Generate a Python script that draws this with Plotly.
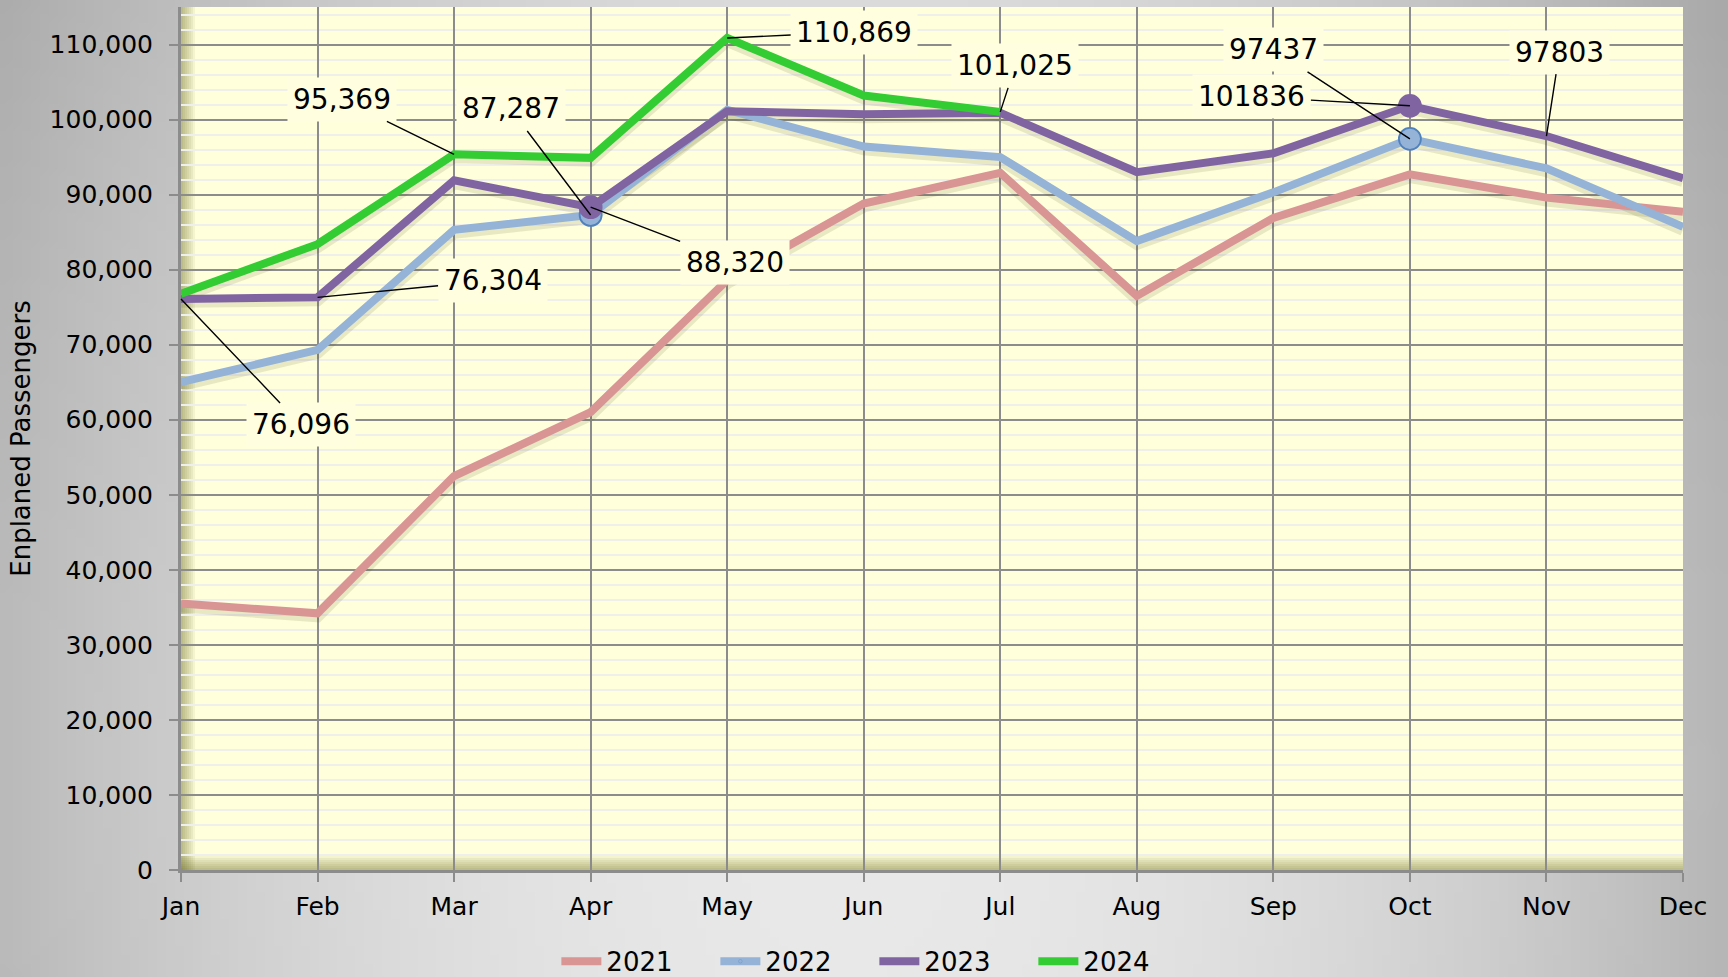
import base64
import struct
import zlib

import plotly.graph_objects as go

# ---------------- data ----------------
months = ["Jan", "Feb", "Mar", "Apr", "May", "Jun", "Jul", "Aug", "Sep", "Oct", "Nov", "Dec"]
series_names = ["2021", "2022", "2023", "2024"]
y2021 = [35500, 34200, 52500, 61000, 78600, 88800, 92900, 76500, 86900, 92700, 89600, 87700]
y2022 = [65000, 69300, 85300, 87287, 101300, 96400, 95000, 83800, 90300, 97437, 93500, 85700]
y2023 = [76096, 76304, 91900, 88320, 101100, 100700, 100900, 93000, 95500, 101836, 97803, 92200]
y2024 = [76800, 83400, 95369, 94900, 110869, 103200, 101025, None, None, None, None, None]
y_ticks = [0, 10000, 20000, 30000, 40000, 50000, 60000, 70000, 80000, 90000, 100000, 110000]

# labelled points: (series, month index, label text, label offset px)
labels = [
    ("2024", 2, "95,369", -112, -55),
    ("2022", 3, "87,287", -80, -106),
    ("2023", 1, "76,304", 175, -17),
    ("2023", 0, "76,096", 120, 126),
    ("2023", 3, "88,320", 144, 55),
    ("2024", 4, "110,869", 127, -6),
    ("2024", 6, "101,025", 15, -46),
    ("2022", 9, "97437", -136, -89),
    ("2023", 9, "101836", -158, -9),
    ("2023", 10, "97803", 13, -84),
]
marker_points = {"2022": [3, 9], "2023": [3, 9]}

values = {"2021": y2021, "2022": y2022, "2023": y2023, "2024": y2024}
colors = {"2021": "#D99594", "2022": "#95B3D7", "2023": "#8064A2", "2024": "#33CC33"}
marker_lines = {"2022": "#4F81BD", "2023": "#8064A2"}

FONT = "DejaVu Sans, Verdana, sans-serif"
W, H = 1728, 977
L, R, T, B = 181, 45, 7, 107
PLOT_BG = "#FFFFDC"


def gradient_png(w, h):
    raw = bytearray()
    for j in range(h):
        raw.append(0)
        fy = j / (h - 1)
        for i in range(w):
            fx = i / (w - 1)
            ex = (fx - 0.49) / 0.51
            ey = (fy - 0.8) / 0.8
            v = 233 - 50 * ex * ex - 14 * ey * ey
            v = int(max(150, min(240, v)))
            raw += bytes([v, v, v])

    def chunk(t, d):
        return struct.pack(">I", len(d)) + t + d + struct.pack(">I", zlib.crc32(t + d) & 0xFFFFFFFF)

    png = (b"\x89PNG\r\n\x1a\n"
           + chunk(b"IHDR", struct.pack(">IIBBBBB", w, h, 8, 2, 0, 0, 0))
           + chunk(b"IDAT", zlib.compress(bytes(raw), 9))
           + chunk(b"IEND", b""))
    return "data:image/png;base64," + base64.b64encode(png).decode()


fig = go.Figure()

# soft drop shadows under the lines
for name in series_names:
    ys = [v - 380 if v is not None else None for v in values[name]]
    fig.add_trace(go.Scatter(
        x=months, y=ys, mode="lines", showlegend=False, hoverinfo="skip",
        line=dict(color="rgba(80,80,20,0.13)", width=12),
    ))

for name in series_names:
    idx = marker_points.get(name, [])
    sizes = [22 if i in idx else 0 for i in range(len(months))]
    lw = [1.8 if i in idx else 0 for i in range(len(months))]
    fig.add_trace(go.Scatter(
        x=months, y=values[name], name=name, mode="lines+markers",
        line=dict(color=colors[name], width=8),
        marker=dict(size=sizes, color=colors[name], opacity=1,
                    line=dict(color=marker_lines.get(name, colors[name]), width=lw)),
    ))

for name, i, text, ax, ay in labels:
    fig.add_annotation(
        x=months[i], y=values[name][i], text=text, showarrow=True,
        ax=ax, ay=ay, arrowhead=0, arrowwidth=1.4, arrowcolor="black", standoff=0,
        font=dict(family=FONT, size=28, color="black"),
        bgcolor="#FFFFE0", borderpad=5,
    )

# yellow plot area (drawn as a subplot shape so it sits above the page gradient)
fig.add_shape(type="rect", xref="x domain", yref="y domain", layer="below",
              x0=0, x1=1, y0=0, y1=1, line=dict(width=0), fillcolor=PLOT_BG)
# inner shadow at left and bottom of plot area
for k in range(1, 8):
    fig.add_shape(type="rect", xref="x domain", yref="y domain", layer="below",
                  xsizemode="pixel", xanchor=0, x0=0, x1=2 * k, y0=0, y1=1,
                  line=dict(width=0), fillcolor="rgba(90,90,20,0.065)")
    fig.add_shape(type="rect", xref="x domain", yref="y domain", layer="below",
                  ysizemode="pixel", yanchor=0, y0=0, y1=2 * k, x0=0, x1=1,
                  line=dict(width=0), fillcolor="rgba(90,90,20,0.065)")

pw, ph = W - L - R, H - T - B
fig.add_layout_image(
    source=gradient_png(192, 108), xref="paper", yref="paper",
    x=-L / pw, y=1 + T / ph, sizex=W / pw, sizey=H / ph,
    xanchor="left", yanchor="top", sizing="stretch", layer="below",
)

fig.update_layout(
    width=W, height=H,
    margin=dict(l=L, r=R, t=T, b=B, autoexpand=False),
    paper_bgcolor="#DADADA",
    plot_bgcolor=PLOT_BG,
    font=dict(family=FONT, size=25, color="black"),
    showlegend=True,
    legend=dict(orientation="h", xref="container", yref="container",
                x=0.506, xanchor="center", y=0.016, yanchor="middle",
                font=dict(family=FONT, size=26), bgcolor="rgba(0,0,0,0)",
                traceorder="normal", itemwidth=40,
                entrywidth=104, entrywidthmode="pixels"),
    xaxis=dict(
        type="category", categoryorder="array", categoryarray=months,
        range=[0, len(months) - 1],
        showgrid=True, gridcolor="#8C8C8C", gridwidth=2,
        showline=True, linecolor="#8C8C8C", linewidth=3,
        ticks="outside", ticklen=9, tickwidth=2, tickcolor="#8C8C8C",
        ticklabelstandoff=3, tickfont=dict(family=FONT, size=25),
        zeroline=False, fixedrange=True,
    ),
    yaxis=dict(
        range=[0, 115000], tickvals=y_ticks, tickformat=",",
        showgrid=True, gridcolor="#8C8C8C", gridwidth=2,
        showline=True, linecolor="#8C8C8C", linewidth=3,
        ticks="outside", ticklen=9, tickwidth=2, tickcolor="#8C8C8C",
        ticklabelstandoff=11, tickfont=dict(family=FONT, size=25),
        minor=dict(dtick=2000, showgrid=True, gridcolor="#EFEFEC", gridwidth=2),
        zeroline=False, fixedrange=True,
        title=dict(text="Enplaned Passengers", font=dict(family=FONT, size=26), standoff=12),
    ),
)

fig.write_html("out.html")
